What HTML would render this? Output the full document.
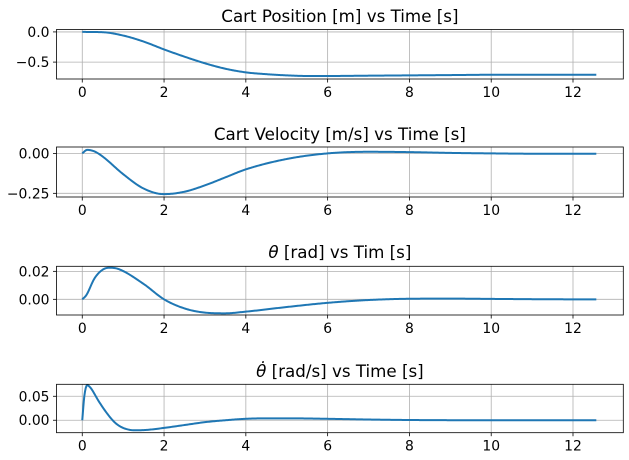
<!DOCTYPE html>
<html><head><meta charset="utf-8"><style>
html,body{margin:0;padding:0;background:#fff}
svg{display:block;font-family:"DejaVu Sans","Liberation Sans",sans-serif}
</style></head><body>
<svg id="chart" width="629" height="460" viewBox="0 0 629 460" xmlns="http://www.w3.org/2000/svg"></svg>
<script>
const xTicks = [0,2,4,6,8,10,12];
const tPos = [0,0.5,1,1.5,2,2.5,3,3.5,4,4.5,5,5.5,6,7,8,9,10,11,12,12.57];
const vPos = [0,-0.005,-0.06,-0.16,-0.29,-0.41,-0.52,-0.61,-0.67,-0.70,-0.72,-0.73,-0.73,-0.725,-0.72,-0.715,-0.71,-0.71,-0.71,-0.71];
const tVel = [0,0.12,0.3,0.5,1,1.5,2,2.5,3,3.5,4,5,6,7,8,9,10,11,12,12.57];
const vVel = [0,0.022,0.012,-0.02,-0.13,-0.22,-0.255,-0.24,-0.2,-0.15,-0.10,-0.035,0.0,0.01,0.008,0.003,0,-0.002,-0.002,-0.002];
const tTh = [0,0.1,0.3,0.5,0.68,0.9,1.5,2,2.5,3,3.5,4,5,6,7,8,9,10,11,12,12.57];
const vTh = [0,0.003,0.015,0.0212,0.0226,0.0215,0.011,0.0,-0.0065,-0.0095,-0.01,-0.0088,-0.0055,-0.0025,-0.0005,0.0004,0.0005,0.0003,0.0001,0,0];
const tThd = [0,0.05,0.12,0.2,0.4,0.6,0.8,1,1.3,1.6,2,2.5,3,3.5,4,4.5,5,6,7,8,10,12.57];
const vThd = [0,0.05,0.073,0.068,0.04,0.015,-0.005,-0.016,-0.021,-0.02,-0.016,-0.01,-0.004,0.0,0.003,0.004,0.004,0.003,0.0015,0.0005,0,0];
const yTicks1 = [0.0,-0.5], yLab1 = ["0.0","\u22120.5"];
const yTicks2 = [0.0,-0.25], yLab2 = ["0.00","\u22120.25"];
const yTicks3 = [0.02,0.0], yLab3 = ["0.02","0.00"];
const yTicks4 = [0.05,0.0], yLab4 = ["0.05","0.00"];

const NS="http://www.w3.org/2000/svg";
const svg=document.getElementById('chart');
function mk(tag,attrs,parent){const e=document.createElementNS(NS,tag);for(const k in attrs)e.setAttribute(k,attrs[k]);(parent||svg).appendChild(e);return e;}
const L=56.5,R=623.3,XMIN=-0.63,XMAX=13.23;
function sx(x){return L+(x-XMIN)/(XMAX-XMIN)*(R-L);}

function monotone(xs,ys){
 const n=xs.length,d=[],m=new Array(n);
 for(let i=0;i<n-1;i++)d.push((ys[i+1]-ys[i])/(xs[i+1]-xs[i]));
 m[0]=d[0];m[n-1]=d[n-2];
 for(let i=1;i<n-1;i++){m[i]=(d[i-1]*d[i]<=0)?0:(d[i-1]+d[i])/2;}
 for(let i=0;i<n-1;i++){
  if(d[i]===0){m[i]=0;m[i+1]=0;continue;}
  const a=m[i]/d[i],b=m[i+1]/d[i],s=a*a+b*b;
  if(s>9){const t=3/Math.sqrt(s);m[i]=t*a*d[i];m[i+1]=t*b*d[i];}
 }
 const out=[];
 for(let i=0;i<n-1;i++){
  const h=xs[i+1]-xs[i],N=Math.max(4,Math.ceil(h*40));
  for(let k=0;k<N;k++){
   const t=k/N,t2=t*t,t3=t2*t;
   const y=(2*t3-3*t2+1)*ys[i]+(t3-2*t2+t)*h*m[i]+(-2*t3+3*t2)*ys[i+1]+(t3-t2)*h*m[i+1];
   out.push([xs[i]+t*h,y]);
  }
 }
 out.push([xs[n-1],ys[n-1]]);
 return out;
}

const panels=[
 {name:'cart-position',top:29.5,bot:79,ymin:-0.78,ymax:0.04,t:tPos,v:vPos,yt:yTicks1,yl:yLab1,title:'Cart Position [m] vs Time [s]',tb:22},
 {name:'cart-velocity',top:147,bot:197,ymin:-0.273,ymax:0.04,t:tVel,v:vVel,yt:yTicks2,yl:yLab2,title:'Cart Velocity [m/s] vs Time [s]',tb:140},
 {name:'theta',top:266.3,bot:315,ymin:-0.0112,ymax:0.0236,t:tTh,v:vTh,yt:yTicks3,yl:yLab3,title:'<tspan font-style="italic">θ</tspan> [rad] vs Tim [s]',tb:258},
 {name:'theta-dot',top:384.3,bot:432.7,ymin:-0.026,ymax:0.075,t:tThd,v:vThd,yt:yTicks4,yl:yLab4,title:'<tspan font-style="italic">θ̇</tspan> [rad/s] vs Time [s]',tb:377}
];
panels.forEach(p=>{
 const g=mk('g',{});
 
 
 const sy=y=>p.bot-(y-p.ymin)/(p.ymax-p.ymin)*(p.bot-p.top);
 xTicks.forEach(x=>{
  const gl=mk('line',{x1:sx(x),x2:sx(x),y1:p.top,y2:p.bot,stroke:'#b0b0b0','stroke-width':0.8},g);
  
  
  mk('line',{x1:sx(x),x2:sx(x),y1:p.bot,y2:p.bot+3.5,stroke:'#000','stroke-width':0.8},g);
  const tx=mk('text',{x:sx(x),y:p.bot+18,'text-anchor':'middle','font-size':13.9,fill:'#000'},g);
  tx.textContent=x;
  
  
 });
 p.yt.forEach((y,i)=>{
  const gl=mk('line',{x1:L,x2:R,y1:sy(y),y2:sy(y),stroke:'#b0b0b0','stroke-width':0.8},g);
  
  
  mk('line',{x1:L-3.5,x2:L,y1:sy(y),y2:sy(y),stroke:'#000','stroke-width':0.8},g);
  const ty=mk('text',{x:L-7,y:sy(y)+5,'text-anchor':'end','font-size':13.9,fill:'#000'},g);
  ty.textContent=p.yl[i];
  
  
 });
 const pts=monotone(p.t,p.v).map(q=>sx(q[0]).toFixed(2)+','+sy(q[1]).toFixed(2)).join(' ');
 const ln=mk('polyline',{points:pts,fill:'none',stroke:'#1f77b4','stroke-width':2,'stroke-linejoin':'round'},g);
 
 
 const fr=mk('rect',{x:L,y:p.top,width:R-L,height:p.bot-p.top,fill:'none',stroke:'#000','stroke-width':0.8},g);
 
 
 const ti=mk('text',{x:(L+R)/2,y:p.tb,'text-anchor':'middle','font-size':16.7,fill:'#000'},g);
 ti.innerHTML=p.title;
 
 
});
</script>
</body></html>
